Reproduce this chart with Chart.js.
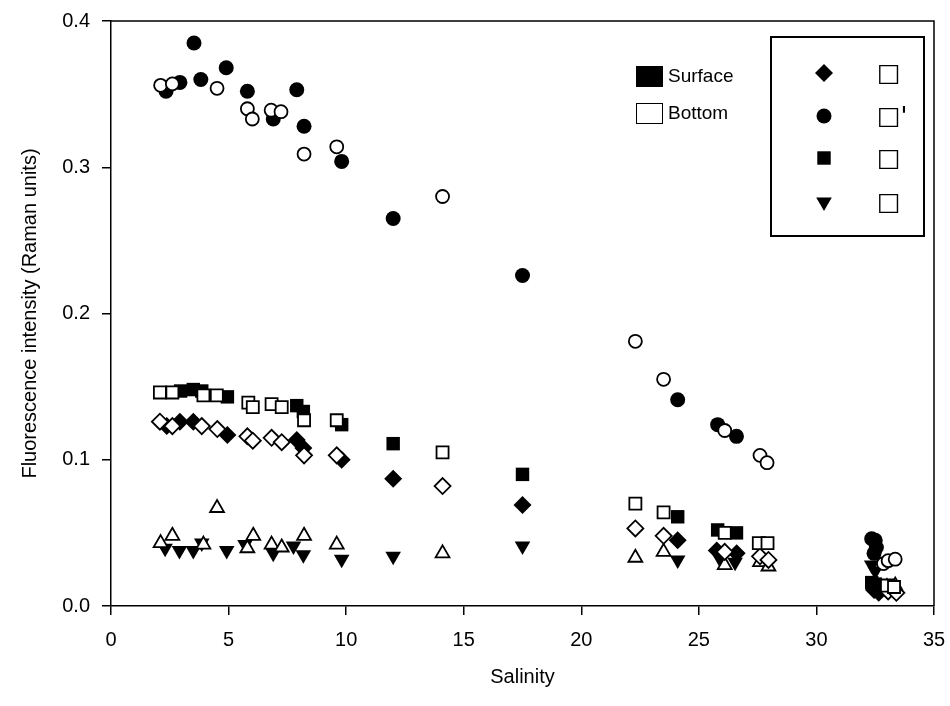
<!DOCTYPE html>
<html>
<head>
<meta charset="utf-8">
<script src="https://cdn.jsdelivr.net/npm/chart.js@4.4.1/dist/chart.umd.min.js"></script>
<style>
  html, body { margin: 0; padding: 0; background: #fff; }
  #wrap { width: 950px; height: 706px; }
</style>
</head>
<body>
<div id="wrap"><canvas id="c" width="950" height="706"></canvas></div>
<script>
// ---- Data (salinity, fluorescence intensity in Raman units) ----
const diamondSurface = [[2.37,0.123],[2.93,0.126],[3.50,0.126],[4.95,0.117],[7.90,0.1135],[8.18,0.108],[9.81,0.100],[12.0,0.087],[17.5,0.069],[24.1,0.045],[25.76,0.038],[26.61,0.036],[32.45,0.011],[32.65,0.009]];
const diamondBottom  = [[2.08,0.126],[2.61,0.123],[3.86,0.123],[4.52,0.121],[5.80,0.116],[6.03,0.113],[6.83,0.115],[7.26,0.112],[8.21,0.103],[9.60,0.103],[14.1,0.082],[22.3,0.053],[23.5,0.048],[26.1,0.037],[27.6,0.034],[27.96,0.0315],[33.05,0.010],[33.4,0.009]];
const circleSurface  = [[2.34,0.352],[2.93,0.358],[3.53,0.385],[3.82,0.360],[4.90,0.368],[5.80,0.352],[6.90,0.333],[7.90,0.353],[8.21,0.328],[9.81,0.304],[12.0,0.265],[17.5,0.226],[24.1,0.141],[25.8,0.124],[26.6,0.116],[32.35,0.046],[32.5,0.045],[32.55,0.040],[32.45,0.036]];
const circleBottom   = [[2.11,0.356],[2.61,0.357],[4.51,0.354],[5.80,0.340],[6.01,0.333],[6.81,0.339],[7.23,0.338],[8.21,0.309],[9.60,0.314],[14.1,0.280],[22.3,0.181],[23.5,0.155],[26.1,0.120],[27.6,0.103],[27.9,0.098],[32.85,0.029],[33.05,0.031],[33.35,0.032]];
const squareSurface  = [[2.96,0.147],[3.50,0.148],[3.86,0.147],[4.95,0.143],[7.90,0.137],[8.18,0.133],[9.81,0.124],[12.0,0.111],[17.5,0.090],[24.1,0.061],[25.8,0.052],[26.6,0.050],[32.35,0.016],[32.5,0.015]];
const squareBottom   = [[2.08,0.146],[2.61,0.146],[3.93,0.144],[4.50,0.144],[5.84,0.139],[6.03,0.136],[6.83,0.138],[7.26,0.136],[8.21,0.127],[9.60,0.127],[14.1,0.105],[22.3,0.070],[23.5,0.064],[26.1,0.050],[27.55,0.043],[27.92,0.043],[33.0,0.014],[33.3,0.013]];
const triangleSurface= [[2.30,0.0395],[2.91,0.038],[3.50,0.038],[3.86,0.043],[4.92,0.038],[5.70,0.042],[6.90,0.036],[7.76,0.041],[8.18,0.035],[9.81,0.032],[12.0,0.034],[17.5,0.041],[24.1,0.0315],[25.87,0.033],[26.54,0.030],[32.35,0.028],[32.5,0.024]];
const triangleBottom = [[2.11,0.043],[2.61,0.048],[3.93,0.042],[4.51,0.067],[5.80,0.0395],[6.05,0.048],[6.83,0.042],[7.26,0.040],[8.21,0.048],[9.60,0.042],[14.1,0.036],[22.3,0.033],[23.5,0.037],[26.1,0.028],[27.6,0.030],[27.96,0.027],[33.0,0.013],[33.35,0.014]];

const xTicks = [0, 5, 10, 15, 20, 25, 30, 35];
const yTicks = [0.0, 0.1, 0.2, 0.3, 0.4];
const depthLabels = ['Surface', 'Bottom'];
const paramLabels = ['□', '□\'', '□', '□'];
const xTitle = 'Salinity';
const yTitle = 'Fluorescence intensity (Raman units)';

const FONT = '"Liberation Sans", Arial, sans-serif';

function toPts(arr) { return arr.map(p => ({x: p[0], y: p[1]})); }

function ds(label, data, style, filled, radius, rotation) {
  return {
    label: label,
    data: toPts(data),
    pointStyle: style,
    pointRadius: radius,
    pointHoverRadius: radius,
    pointRotation: rotation || 0,
    backgroundColor: filled ? '#000' : '#fff',
    borderColor: '#000',
    borderWidth: filled ? 0 : 1.8,
    showLine: false
  };
}

// open (bottom) symbols listed first so they are drawn on top
const datasets = [
  ds('Bottom circle', circleBottom, 'circle', false, 6.5),
  ds('Bottom square', squareBottom, 'rect', false, 8.5),
  ds('Bottom diamond', diamondBottom, 'rectRot', false, 8),
  ds('Bottom triangle', triangleBottom, 'triangle', false, 8),
  ds('Surface circle', circleSurface, 'circle', true, 7.5),
  ds('Surface square', squareSurface, 'rect', true, 9.5),
  ds('Surface diamond', diamondSurface, 'rectRot', true, 9),
  ds('Surface triangle', triangleSurface, 'triangle', true, 9, 180)
];

function drawShape(ctx, style, x, y, r, filled) {
  ctx.beginPath();
  if (style === 'circle') {
    ctx.arc(x, y, r, 0, Math.PI * 2);
  } else if (style === 'rect') {
    const s = r * Math.SQRT1_2;
    ctx.rect(x - s, y - s, 2 * s, 2 * s);
  } else if (style === 'rectRot') {
    ctx.moveTo(x, y - r); ctx.lineTo(x + r, y); ctx.lineTo(x, y + r); ctx.lineTo(x - r, y); ctx.closePath();
  } else if (style === 'triDown') {
    const h = r * Math.sqrt(3) / 2;
    ctx.moveTo(x, y + r); ctx.lineTo(x + h, y - r / 2); ctx.lineTo(x - h, y - r / 2); ctx.closePath();
  }
  ctx.fillStyle = filled ? '#000' : '#fff';
  ctx.fill();
}

const framePlugin = {
  id: 'frameAndLegend',
  afterDraw(chart) {
    const ctx = chart.ctx;
    const a = chart.chartArea;
    ctx.save();
    ctx.strokeStyle = '#000';
    ctx.lineWidth = 1.5;
    ctx.beginPath();
    ctx.moveTo(a.left, a.top); ctx.lineTo(a.right, a.top); ctx.lineTo(a.right, a.bottom);
    ctx.stroke();

    // depth legend
    ctx.font = '19px ' + FONT;
    ctx.textBaseline = 'middle';
    ctx.textAlign = 'left';
    ctx.fillStyle = '#000';
    ctx.fillRect(636, 66, 27, 21);
    ctx.fillText(depthLabels[0], 668, 77);
    ctx.lineWidth = 1;
    ctx.strokeRect(636.5, 103.5, 26, 20);
    ctx.fillText(depthLabels[1], 668, 114);

    // parameter legend box
    ctx.lineWidth = 2;
    ctx.strokeRect(771, 37, 153, 199);
    const styles = ['rectRot', 'circle', 'rect', 'triDown'];
    const radii = [9, 7.5, 9.5, 9];
    const ys = [73, 116, 158, 202];
    ctx.font = '25px "DejaVu Sans", sans-serif';
    for (let i = 0; i < 4; i++) {
      drawShape(ctx, styles[i], 824, ys[i], radii[i], true);
      ctx.fillStyle = '#000';
      ctx.fillText(paramLabels[i], 877, ys[i] + 1);
    }
    ctx.restore();
  }
};

new Chart(document.getElementById('c'), {
  type: 'scatter',
  data: { datasets: datasets },
  options: {
    responsive: false,
    animation: false,
    devicePixelRatio: 1,
    layout: { padding: { left: 0, right: 16, top: 21, bottom: 0 } },
    plugins: { legend: { display: false }, tooltip: { enabled: false } },
    scales: {
      x: {
        type: 'linear',
        min: 0, max: 35,
        afterFit: s => { s.height = 100; s.paddingLeft = 0; s.paddingRight = 0; },
        afterBuildTicks: s => { s.ticks = xTicks.map(v => ({value: v})); },
        ticks: { color: '#000', font: { family: FONT, size: 20 }, padding: 13, callback: v => String(v) },
        grid: { drawOnChartArea: false, drawTicks: true, tickLength: 9, color: '#000', lineWidth: 1.5 },
        border: { display: true, color: '#000', width: 1.5 },
        title: { display: true, text: xTitle, color: '#000', font: { family: FONT, size: 20 }, padding: { top: 0, bottom: 17 } }
      },
      y: {
        type: 'linear',
        min: 0, max: 0.4,
        afterFit: s => { s.width = 111; s.paddingTop = 0; s.paddingBottom = 0; },
        afterBuildTicks: s => { s.ticks = yTicks.map(v => ({value: v})); },
        ticks: { color: '#000', font: { family: FONT, size: 20 }, padding: 12, callback: v => Number(v).toFixed(1) },
        grid: { drawOnChartArea: false, drawTicks: true, tickLength: 9, color: '#000', lineWidth: 1.5 },
        border: { display: true, color: '#000', width: 1.5 },
        title: { display: true, text: yTitle, color: '#000', font: { family: FONT, size: 20 }, padding: { top: 18, bottom: 0 } }
      }
    }
  },
  plugins: [framePlugin]
});
</script>
</body>
</html>
